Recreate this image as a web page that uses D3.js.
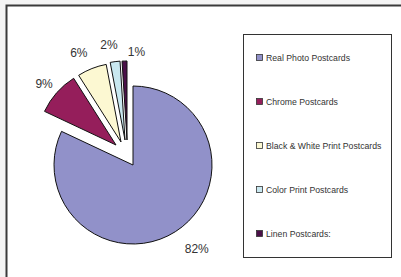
<!DOCTYPE html>
<html>
<head>
<meta charset="utf-8">
<script src="https://cdn.jsdelivr.net/npm/d3@7"></script>
<style>
body { margin: 0; background: #f4f4f4; }
svg { display: block; }
text { font-family: "Liberation Sans", Arial, sans-serif; fill: #333; }
</style>
</head>
<body>
<svg id="chart"></svg>
<script>
var width = 401;
var height = 277;

// chart data
var categories = ["Real Photo Postcards", "Chrome Postcards", "Black & White Print Postcards",
    "Color Print Postcards", "Linen Postcards:"];
var values = [82, 9, 6, 2, 1];
var labels = ["82%", "9%", "6%", "2%", "1%"];

// styling
var colors = ["#9191c9", "#951e5b", "#fcf8d2", "#c9e8f0", "#4a1048"];
var explode = [[0, 0], [-17, -20], [-12, -23], [-8, -25], [-6, -25]]; // how far each slice is pulled out
var labelNudge = [[3, 2], [5, 3], [0, 0], [4, -1], [21, 7]];           // small fixes so labels don't collide

var cx = 133, cy = 165, radius = 79;

var svg = d3.select("#chart")
    .attr("width", width)
    .attr("height", height);

// white chart area with dark frame (right/bottom edges run off the picture)
svg.append("rect")
    .attr("x", 6.5)
    .attr("y", 5.5)
    .attr("width", width + 10)
    .attr("height", height + 10)
    .style("fill", "#fff")
    .style("stroke", "#3a3a3a")
    .style("stroke-width", 2);

var pie = d3.pie()
    .sort(null)
    .value(function(d) { return d; });

var arc = d3.arc()
    .innerRadius(0)
    .outerRadius(radius);

var slices = pie(values);

var pieG = svg.append("g")
    .attr("transform", "translate(" + cx + "," + cy + ")");

pieG.selectAll("path")
    .data(slices)
    .enter().append("path")
    .attr("d", arc)
    .attr("transform", function(d, i) { return "translate(" + explode[i][0] + "," + explode[i][1] + ")"; })
    .style("fill", function(d, i) { return colors[i]; })
    .style("stroke", "#111")
    .style("stroke-width", 1);

// percent labels, placed just outside each slice
pieG.selectAll("text.pct")
    .data(slices)
    .enter().append("text")
    .attr("class", "pct")
    .attr("x", function(d, i) {
        var mid = (d.startAngle + d.endAngle) / 2;
        return explode[i][0] + (radius + 12) * Math.sin(mid) + labelNudge[i][0];
    })
    .attr("y", function(d, i) {
        var mid = (d.startAngle + d.endAngle) / 2;
        var y = explode[i][1] - (radius + 12) * Math.cos(mid);
        if (-Math.cos(mid) > 0) y += 9; // lower half: hang the label below the point
        return y + labelNudge[i][1];
    })
    .style("text-anchor", function(d, i) {
        var mid = (d.startAngle + d.endAngle) / 2;
        return Math.sin(mid) > 0 ? "start" : "end";
    })
    .style("font-size", "12px")
    .text(function(d, i) { return labels[i]; });

// legend
var legend = svg.append("g");

legend.append("rect")
    .attr("x", 243.5)
    .attr("y", 34.5)
    .attr("width", 148)
    .attr("height", 223)
    .style("fill", "#fff")
    .style("stroke", "#333")
    .style("stroke-width", 1);

var item = legend.selectAll("g.item")
    .data(categories)
    .enter().append("g")
    .attr("class", "item")
    .attr("transform", function(d, i) { return "translate(256," + (57 + i * 44) + ")"; });

item.append("rect")
    .attr("x", 0.5)
    .attr("y", -2.5)
    .attr("width", 6)
    .attr("height", 6)
    .style("fill", function(d, i) { return colors[i]; })
    .style("stroke", "#333")
    .style("stroke-width", 0.8);

item.append("text")
    .attr("x", 10)
    .attr("y", 0.5)
    .attr("dy", "0.35em")
    .style("font-size", "8.7px")
    .text(function(d) { return d; });
</script>
</body>
</html>
